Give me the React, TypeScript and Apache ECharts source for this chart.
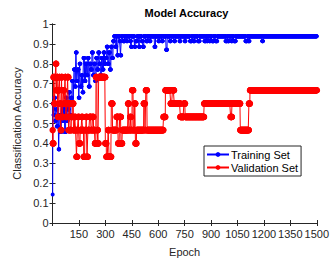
import React, { useEffect, useRef } from "react";
import * as echarts from "echarts";

const LAST_EPOCH = 1500;
const xTickStep = 150;
const yTickStep = 0.1;

// [first epoch of run, accuracy] — each run lasts until the next run starts
const trainingRuns: [number, number][] = [
  [1, 0.143], [2, 0.6], [6, 0.543], [10, 0.629], [15, 0.514], [20, 0.571], [25, 0.486], [31, 0.6],
  [35, 0.371], [39, 0.543], [45, 0.457], [51, 0.6], [57, 0.514], [63, 0.571], [69, 0.457], [76, 0.629],
  [81, 0.514], [87, 0.571], [93, 0.657], [99, 0.543], [105, 0.629], [111, 0.714], [117, 0.6], [122, 0.771],
  [128, 0.686], [133, 0.857], [138, 0.714], [143, 0.771], [149, 0.629], [154, 0.8], [159, 0.686], [165, 0.743],
  [171, 0.657], [176, 0.829], [182, 0.714], [188, 0.8], [194, 0.743], [200, 0.829], [206, 0.686], [212, 0.8],
  [218, 0.771], [224, 0.857], [230, 0.743], [236, 0.8], [242, 0.714], [248, 0.829], [254, 0.771], [260, 0.857],
  [266, 0.8], [272, 0.743], [278, 0.829], [284, 0.771], [290, 0.857], [296, 0.8], [302, 0.829], [308, 0.886],
  [314, 0.8], [320, 0.857], [326, 0.771], [332, 0.886], [338, 0.829], [344, 0.914], [350, 0.938], [357, 0.886],
  [363, 0.938], [368, 0.843], [373, 0.938], [381, 0.914], [386, 0.843], [391, 0.938], [401, 0.914], [411, 0.938],
  [421, 0.914], [426, 0.938], [441, 0.914], [446, 0.886], [451, 0.938], [466, 0.886], [471, 0.914], [481, 0.938],
  [491, 0.886], [496, 0.938], [506, 0.914], [513, 0.886], [519, 0.938], [531, 0.914], [541, 0.938], [551, 0.914],
  [557, 0.938], [579, 0.886], [585, 0.938], [601, 0.914], [607, 0.938], [621, 0.914], [627, 0.938], [645, 0.871],
  [651, 0.938], [666, 0.914], [673, 0.938], [691, 0.914], [697, 0.938], [721, 0.914], [727, 0.938], [750, 0.914],
  [756, 0.938], [780, 0.914], [791, 0.938], [800, 0.914], [807, 0.938], [825, 0.914], [836, 0.938], [862, 0.914],
  [871, 0.938], [876, 0.914], [881, 0.938], [890, 0.914], [896, 0.938], [905, 0.914], [916, 0.938], [925, 0.914],
  [936, 0.938], [982, 0.914], [991, 0.938], [995, 0.914], [1003, 0.938], [1015, 0.914], [1021, 0.938], [1030, 0.914],
  [1041, 0.938], [1095, 0.914], [1106, 0.938], [1112, 0.914], [1119, 0.938], [1190, 0.914], [1196, 0.938],
];

const validationRuns: [number, number][] = [
  [1, 0.467], [2, 0.4], [6, 0.733], [11, 0.6], [15, 0.733], [19, 0.8], [22, 0.667], [26, 0.733],
  [31, 0.533], [34, 0.667], [39, 0.733], [43, 0.6], [47, 0.467], [51, 0.733], [56, 0.533], [61, 0.667],
  [66, 0.6], [71, 0.733], [76, 0.533], [81, 0.6], [86, 0.733], [91, 0.467], [96, 0.6], [101, 0.467],
  [107, 0.533], [113, 0.6], [119, 0.467], [126, 0.533], [131, 0.467], [136, 0.333], [141, 0.467], [146, 0.533],
  [151, 0.4], [157, 0.467], [166, 0.533], [171, 0.467], [177, 0.333], [184, 0.467], [191, 0.533], [196, 0.333],
  [201, 0.467], [211, 0.533], [219, 0.467], [227, 0.533], [233, 0.467], [241, 0.4], [247, 0.733], [253, 0.467],
  [258, 0.4], [262, 0.733], [300, 0.4], [306, 0.333], [316, 0.467], [321, 0.333], [334, 0.6], [341, 0.467],
  [364, 0.533], [373, 0.4], [381, 0.533], [389, 0.4], [396, 0.467], [429, 0.6], [434, 0.467], [441, 0.533],
  [446, 0.467], [452, 0.667], [459, 0.467], [467, 0.6], [471, 0.4], [477, 0.467], [518, 0.6], [525, 0.467],
  [530, 0.667], [537, 0.467], [630, 0.533], [641, 0.667], [671, 0.6], [681, 0.667], [691, 0.6], [726, 0.533],
  [746, 0.6], [753, 0.533], [861, 0.6], [1011, 0.533], [1019, 0.6], [1066, 0.467], [1115, 0.6], [1121, 0.667],
];

function expandRuns(runs: [number, number][], last: number): [number, number][] {
  const out: [number, number][] = [];
  for (let i = 0; i < runs.length; i++) {
    const [start, v] = runs[i];
    const end = i + 1 < runs.length ? runs[i + 1][0] - 1 : last;
    for (let e = start; e <= end; e++) out.push([e, v]);
  }
  return out;
}

const AXIS_COLOR = "#262626";
const FONT = "'Liberation Sans', Arial, Helvetica, sans-serif";

export default function App() {
  const ref = useRef<HTMLDivElement>(null);
  useEffect(() => {
    if (!ref.current) return;
    const chart = echarts.init(ref.current, undefined, { renderer: "svg" });
    const tickStyle = { show: true, inside: true, length: 3, lineStyle: { color: AXIS_COLOR, width: 1 } };
    const lineStyle = { show: true, lineStyle: { color: AXIS_COLOR, width: 1 } };
    chart.setOption({
      animation: false,
      backgroundColor: "#ffffff",
      textStyle: { fontFamily: FONT },
      title: {
        text: "Model Accuracy",
        left: 186.5,
        top: 7,
        textAlign: "center",
        padding: 0,
        textStyle: { fontSize: 11, fontWeight: "bold", color: "#000000", fontFamily: FONT },
      },
      grid: { left: 52.5, right: 11, top: 24, bottom: 34, containLabel: false },
      legend: {
        orient: "vertical",
        left: 204,
        top: 146,
        padding: [3, 3, 3, 2],
        itemGap: 2,
        itemWidth: 22,
        itemHeight: 6,
        backgroundColor: "#ffffff",
        borderColor: AXIS_COLOR,
        borderWidth: 1,
        borderRadius: 0,
        textStyle: { fontSize: 11, color: "#000000", fontFamily: FONT, padding: [0, 0, 0, -3] },
        data: ["Training Set", "Validation Set"],
      },
      xAxis: [
        {
          type: "value",
          min: 0,
          max: LAST_EPOCH,
          interval: xTickStep,
          position: "bottom",
          name: "Epoch",
          nameLocation: "middle",
          nameGap: 23,
          nameTextStyle: { fontSize: 11, color: AXIS_COLOR, fontFamily: FONT },
          axisLine: lineStyle,
          axisTick: tickStyle,
          splitLine: { show: false },
          axisLabel: {
            fontSize: 11,
            color: AXIS_COLOR,
            margin: 5,
            fontFamily: FONT,
            hideOverlap: false,
            formatter: (v: number) => (v === 0 ? "" : String(v)),
          },
        },
        {
          type: "value",
          min: 0,
          max: LAST_EPOCH,
          interval: xTickStep,
          position: "top",
          axisLine: lineStyle,
          axisTick: tickStyle,
          splitLine: { show: false },
          axisLabel: { show: false },
        },
      ],
      yAxis: [
        {
          type: "value",
          min: 0,
          max: 1,
          interval: yTickStep,
          position: "left",
          name: "Classification Accuracy",
          nameLocation: "middle",
          nameGap: 21,
          nameTextStyle: { fontSize: 11, color: AXIS_COLOR, fontFamily: FONT },
          axisLine: lineStyle,
          axisTick: tickStyle,
          splitLine: { show: false },
          axisLabel: {
            fontSize: 11,
            color: AXIS_COLOR,
            margin: 4,
            fontFamily: FONT,
            formatter: (v: number) => (v === 0 || v === 1 ? String(v) : v.toFixed(1)),
          },
        },
        {
          type: "value",
          min: 0,
          max: 1,
          interval: yTickStep,
          position: "right",
          axisLine: lineStyle,
          axisTick: tickStyle,
          splitLine: { show: false },
          axisLabel: { show: false },
        },
      ],
      series: [
        {
          name: "Training Set",
          type: "line",
          xAxisIndex: 0,
          yAxisIndex: 0,
          data: expandRuns(trainingRuns, LAST_EPOCH),
          color: "#0000ff",
          symbol: "circle",
          symbolSize: 4,
          showAllSymbol: true,
          lineStyle: { width: 1, color: "#0000ff" },
          itemStyle: { color: "#0000ff" },
          emphasis: { disabled: true },
          z: 2,
        },
        {
          name: "Validation Set",
          type: "line",
          xAxisIndex: 0,
          yAxisIndex: 0,
          data: expandRuns(validationRuns, LAST_EPOCH),
          color: "#ff0000",
          symbol: "circle",
          symbolSize: 6.5,
          showAllSymbol: true,
          lineStyle: { width: 1, color: "#ff0000" },
          itemStyle: { color: "#ff0000" },
          emphasis: { disabled: true },
          z: 3,
        },
      ],
    });
    return () => chart.dispose();
  }, []);
  return (
    <div
      ref={ref}
      style={{ position: "fixed", left: 0, top: 0, width: 332, height: 262, background: "#fff" }}
    />
  );
}
